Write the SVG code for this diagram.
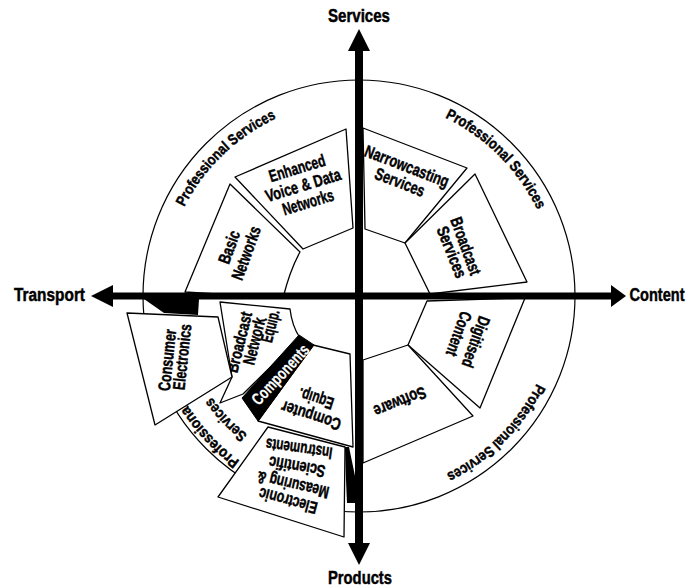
<svg xmlns="http://www.w3.org/2000/svg" width="700" height="588" viewBox="0 0 700 588">
  <defs>
    <style>
      .shape { fill:#fff; stroke:#000; stroke-width:1.3; stroke-linejoin:round; }
      .ring { fill:none; stroke:#000; stroke-width:1.2; }
      .lbl { font-family:"Liberation Sans Narrow","Liberation Sans",Arial,sans-serif; font-weight:bold; font-size:17px; fill:#000; stroke:#000; stroke-width:0.45; text-anchor:middle; }
      .axislbl { font-size:18px; }
      .ps { font-size:15px; }
      .inv { fill:#fff; stroke:#fff; stroke-width:0.2; }
      .ink { fill:#000; stroke:none; }
      .axis { stroke:#000; fill:none; }
    </style>
    <marker id="head" markerUnits="userSpaceOnUse" markerWidth="22" markerHeight="22" viewBox="0 0 22 22" refX="0" refY="11" orient="auto-start-reverse">
      <path d="M0,0 L22,11 L0,22 z" fill="#000"/>
    </marker>
    <marker id="headShort" markerUnits="userSpaceOnUse" markerWidth="15" markerHeight="22" viewBox="0 0 15 22" refX="0" refY="11" orient="auto">
      <path d="M0,0 L15,11 L0,22 z" fill="#000"/>
    </marker>
    <path id="arcUL" d="M166.0,262.0 A196,196 0 0 1 331.7,101.9"/>
    <path id="arcUR" d="M390.0,100.4 A198,198 0 0 1 554.6,265.0"/>
    <path id="arcLR" d="M554.6,327.0 A198,198 0 0 1 390.0,491.6"/>
    <path id="arcLL1" d="M300.0,490.7 A203,203 0 0 1 160.8,340.0"/>
    <path id="arcLL2" d="M307.2,465.3 A180,180 0 0 1 183.6,336.3"/>
  </defs>

  <rect width="700" height="588" fill="#fff"/>

  <!-- outer ring with professional services -->
  <g id="professional-services">
    <circle class="ring" cx="359" cy="296" r="216"/>
    <text class="lbl ps"><textPath href="#arcUL" startOffset="50%" textLength="130" lengthAdjust="spacingAndGlyphs">Professional Services</textPath></text>
    <text class="lbl ps"><textPath href="#arcUR" startOffset="50%" textLength="133" lengthAdjust="spacingAndGlyphs">Professional Services</textPath></text>
    <text class="lbl ps"><textPath href="#arcLR" startOffset="50%" textLength="130" lengthAdjust="spacingAndGlyphs">Professional Services</textPath></text>
    <text class="lbl ps"><textPath href="#arcLL1" startOffset="50%" textLength="80" lengthAdjust="spacingAndGlyphs">Professional</textPath></text>
    <text class="lbl ps"><textPath href="#arcLL2" startOffset="50%" textLength="52" lengthAdjust="spacingAndGlyphs">Services</textPath></text>
  </g>

  <g id="enhanced-networks">
    <polygon class="shape" points="235,177 346,129 353,228 303,249"/>
    <text class="lbl" transform="translate(297,168) rotate(-17)" y="6" textLength="58" lengthAdjust="spacingAndGlyphs">Enhanced</text>
    <text class="lbl" transform="translate(303,185) rotate(-17)" y="6" textLength="78" lengthAdjust="spacingAndGlyphs">Voice &amp; Data</text>
    <text class="lbl" transform="translate(308,202) rotate(-17)" y="6" textLength="53" lengthAdjust="spacingAndGlyphs">Networks</text>
  </g>

  <g id="basic-networks">
    <path class="shape" d="M230,184 L300,252 Q290,270 283,298 L185,292 Z"/>
    <text class="lbl" transform="translate(229,247) rotate(-70)" y="6" textLength="34" lengthAdjust="spacingAndGlyphs">Basic</text>
    <text class="lbl" transform="translate(246,253) rotate(-70)" y="6" textLength="56" lengthAdjust="spacingAndGlyphs">Networks</text>
  </g>

  <g id="narrowcasting-services">
    <polygon class="shape" points="363,128 467,168 405,243 365,229"/>
    <text class="lbl" transform="translate(407,166) rotate(21)" y="6" textLength="89" lengthAdjust="spacingAndGlyphs">Narrowcasting</text>
    <text class="lbl" transform="translate(400,182) rotate(21)" y="6" textLength="52" lengthAdjust="spacingAndGlyphs">Services</text>
  </g>

  <g id="broadcast-services">
    <polygon class="shape" points="475,174 527,282 430,294 405,243"/>
    <text class="lbl" transform="translate(466,246) rotate(70)" y="6" textLength="60" lengthAdjust="spacingAndGlyphs">Broadcast</text>
    <text class="lbl" transform="translate(452,252) rotate(68)" y="6" textLength="54" lengthAdjust="spacingAndGlyphs">Services</text>
  </g>

  <g id="digitised-content">
    <polygon class="shape" points="427,301 525,298 480,408 408,345"/>
    <text class="lbl" transform="translate(476,342) rotate(110)" y="6" textLength="53" lengthAdjust="spacingAndGlyphs">Digitised</text>
    <text class="lbl" transform="translate(459,334) rotate(110)" y="6" textLength="46" lengthAdjust="spacingAndGlyphs">Content</text>
  </g>

  <g id="software">
    <polygon class="shape" points="363,360 408,345 473,416 363,463"/>
    <text class="lbl" transform="translate(400,402) rotate(158)" y="6" textLength="55" lengthAdjust="spacingAndGlyphs">Software</text>
  </g>

  <g id="computer-equip">
    <polygon class="shape" points="313,345 350,354 353,447 258,421"/>
    <text class="lbl" transform="translate(311,416) rotate(198)" y="6" textLength="62" lengthAdjust="spacingAndGlyphs">Computer</text>
    <text class="lbl" transform="translate(316,399) rotate(198)" y="6" textLength="36" lengthAdjust="spacingAndGlyphs">Equip.</text>
  </g>

  <g id="broadcast-network-equip">
    <path class="shape" d="M220,302 L290,309 Q292,326 300,338 L243,394 L220,403 L232,377 Z"/>
    <text class="lbl" transform="translate(239,342) rotate(-76)" y="6" textLength="62" lengthAdjust="spacingAndGlyphs">Broadcast</text>
    <text class="lbl" transform="translate(254,341) rotate(-76)" y="6" textLength="48" lengthAdjust="spacingAndGlyphs">Network</text>
    <text class="lbl" transform="translate(270,326) rotate(-76)" y="6" textLength="33" lengthAdjust="spacingAndGlyphs">Equip.</text>
  </g>

  <g id="components">
    <polygon points="299,335 314,345 258,421 242,398" fill="#000" stroke="#000" stroke-width="1"/>
    <text class="lbl inv" transform="translate(281,375) rotate(-47)" y="5" font-size="15" textLength="76" lengthAdjust="spacingAndGlyphs">Components</text>
  </g>

  <g id="consumer-electronics">
    <polygon class="shape" points="127,313 218,317 232,377 155,425"/>
    <text class="lbl" transform="translate(167,360) rotate(-84)" y="6" textLength="62" lengthAdjust="spacingAndGlyphs">Consumer</text>
    <text class="lbl" transform="translate(182,357) rotate(-84)" y="6" textLength="66" lengthAdjust="spacingAndGlyphs">Electronics</text>
  </g>

  <g id="electronic-measuring">
    <polygon class="shape" points="268,427 345,447 344,537 218,497"/>
    <text class="lbl" transform="translate(288,501) rotate(195)" y="6" textLength="60" lengthAdjust="spacingAndGlyphs">Electronic</text>
    <text class="lbl" transform="translate(293,485) rotate(193)" y="6" textLength="73" lengthAdjust="spacingAndGlyphs">Measuring &amp;</text>
    <text class="lbl" transform="translate(297,467) rotate(190)" y="6" textLength="57" lengthAdjust="spacingAndGlyphs">Scientific</text>
    <text class="lbl" transform="translate(299,449) rotate(188)" y="6" textLength="67" lengthAdjust="spacingAndGlyphs">Instruments</text>
  </g>

  <!-- connectors: axes -->
  <g id="axes">
    <line class="axis" x1="359" y1="543" x2="359" y2="51" stroke-width="8" marker-end="url(#head)" marker-start="url(#head)"/>
    <line class="axis" x1="113" y1="296" x2="611" y2="296" stroke-width="7" marker-start="url(#head)" marker-end="url(#headShort)"/>
    <polygon class="ink" points="144,299 199,299 198,315 164,313"/>
    <polygon class="ink" points="345,447 349,447 355,476 355,503 347,503 346,480"/>
  </g>

  <g id="axis-labels">
    <text class="lbl axislbl" x="359" y="22" textLength="62" lengthAdjust="spacingAndGlyphs">Services</text>
    <text class="lbl axislbl" x="49.5" y="301" textLength="71" lengthAdjust="spacingAndGlyphs">Transport</text>
    <text class="lbl axislbl" x="657" y="301" textLength="55" lengthAdjust="spacingAndGlyphs">Content</text>
    <text class="lbl axislbl" x="360" y="584" textLength="64" lengthAdjust="spacingAndGlyphs">Products</text>
  </g>
</svg>
